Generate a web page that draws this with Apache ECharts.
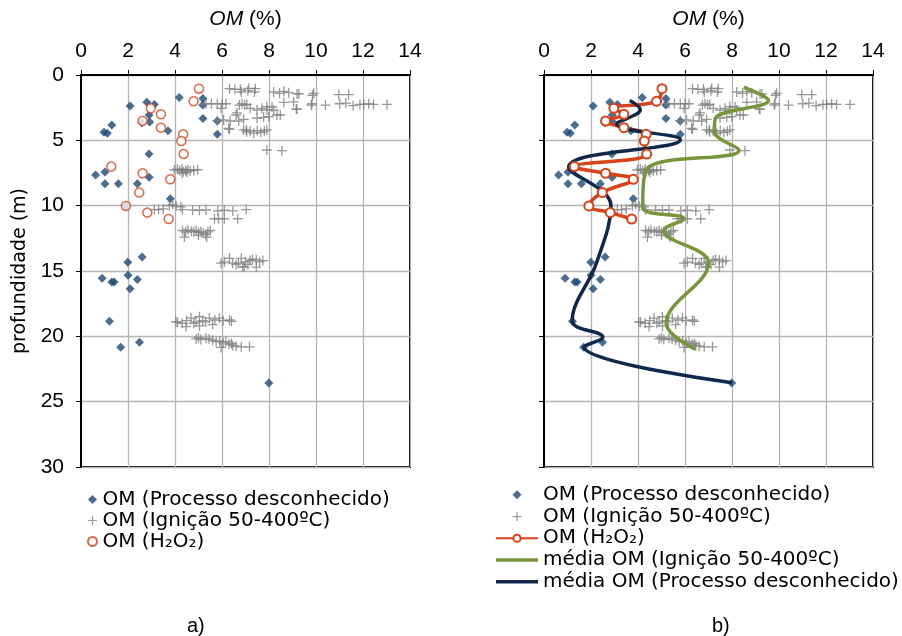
<!DOCTYPE html>
<html><head><meta charset="utf-8">
<script src="https://cdn.jsdelivr.net/npm/echarts@6/dist/echarts.min.js"></script>
<style>html,body{margin:0;padding:0;background:#fff}#c{width:902px;height:636px}</style>
</head><body><div id="c"></div>
<script>
// ---------- data ----------
const xTickValues = [0, 2, 4, 6, 8, 10, 12, 14];
const yTickValues = [0, 5, 10, 15, 20, 25, 30];

// OM (Processo desconhecido): [OM %, depth m]
const omUnknown = [
  [2.09,2.37],[2.80,2.09],[3.12,2.25],[2.90,3.06],[2.59,3.65],[2.92,3.60],[3.70,4.26],
  [4.18,1.73],[5.19,1.79],[5.18,2.30],[5.19,3.32],[5.80,3.52],[5.80,4.54],
  [1.31,3.83],[0.98,4.38],[1.12,4.46],[2.89,6.05],
  [0.62,7.65],[1.02,7.42],[1.02,8.32],[1.59,8.32],[2.40,8.32],[2.90,7.83],[3.80,9.47],[1.91,10.02],
  [1.99,14.33],[2.60,13.92],[0.90,15.56],[1.31,15.84],[1.41,15.84],[2.00,15.33],[2.40,15.66],[2.09,16.35],
  [1.21,18.85],[2.49,20.45],[1.69,20.84],[7.99,23.57]
];

// OM (Ignição 50-400ºC)
const omIgnition = [
  [6.32,1.05],[6.55,1.10],[6.78,1.10],[7.14,1.02],[7.42,1.05],[6.82,1.30],[7.10,1.20],[7.38,1.30],
  [8.20,1.30],[8.45,1.40],[8.63,1.25],[8.84,1.35],[9.19,1.45],[9.27,1.45],[9.90,1.40],[9.85,1.55],
  [10.97,1.50],[11.39,1.50],
  [5.32,2.20],[5.55,2.20],[5.80,2.20],[6.00,2.20],[6.17,2.20],[5.96,2.55],[6.74,2.30],[6.96,2.30],
  [6.85,2.20],[7.06,2.25],[7.91,2.42],[8.13,2.45],[8.63,2.10],[9.05,2.05],[9.16,2.60],[9.80,2.30],[9.83,2.20],
  [10.40,2.30],[11.01,2.20],[11.27,2.15],[11.58,2.35],[11.87,2.25],[12.03,2.25],[12.24,2.20],[12.45,2.25],[13.02,2.25],
  [6.64,2.90],[7.20,2.55],[7.49,2.68],[7.70,2.55],[7.91,2.68],[8.20,2.68],[8.48,3.06],[9.19,2.63],
  [5.80,3.50],[6.07,3.44],[6.35,3.52],[6.71,3.52],[6.92,3.39],[7.49,3.31],[7.77,3.24],[7.99,3.19],[8.34,3.06],
  [6.60,3.06],[6.28,4.08],[6.32,4.16],
  [6.92,4.20],[7.05,4.35],[7.20,4.30],[7.35,4.45],[7.50,4.25],[7.65,4.40],[7.80,4.30],[7.91,4.20],[7.03,4.20],
  [7.91,5.74],[8.55,5.79],
  [3.97,7.27],[4.10,7.20],[4.20,7.30],[4.30,7.20],[4.35,7.40],[4.45,7.30],[4.55,7.25],[4.65,7.35],
  [4.80,7.30],[4.96,7.25],[4.30,7.50],[4.50,7.45],
  [3.12,10.30],[3.30,10.30],[3.50,10.25],[3.76,10.00],[3.90,9.90],[4.05,10.05],[4.25,10.10],[4.32,10.30],
  [4.75,10.33],[5.04,10.35],[5.32,10.33],[5.82,10.40],[6.10,10.35],[6.46,10.40],[7.03,10.30],
  [5.68,11.00],[5.85,11.00],[6.10,11.00],[6.67,11.00],
  [4.32,11.90],[4.45,12.00],[4.55,11.85],[4.70,11.95],[4.80,12.00],[4.90,11.90],[5.00,12.05],[5.10,12.00],
  [5.20,12.10],[5.30,12.20],[5.40,12.00],[5.50,11.90],[4.40,12.40],[5.35,12.40],[5.00,12.25],
  [5.96,14.40],[6.10,14.30],[6.32,14.03],[6.45,14.40],[6.60,14.50],[6.82,14.03],[6.88,14.67],[7.00,14.30],
  [7.10,14.50],[7.20,14.20],[7.30,14.10],[7.46,14.15],[7.60,14.30],[7.46,14.70],[6.70,14.40],[6.95,14.70],[7.74,14.20],
  [4.04,18.90],[4.11,18.92],[4.30,19.00],[4.47,19.25],[4.50,18.80],[4.68,18.60],[4.80,19.00],[4.90,18.90],
  [5.04,18.50],[5.04,19.20],[5.18,18.80],[5.30,18.90],[5.46,18.60],[5.60,19.10],[5.70,18.75],[5.89,18.60],
  [6.05,18.80],[6.32,18.75],[6.40,18.85],
  [4.90,20.20],[5.00,20.10],[5.10,20.25],[5.32,20.15],[5.45,20.20],[5.60,20.30],[5.75,20.40],[5.90,20.35],
  [6.05,20.50],[6.17,20.40],[6.30,20.60],[6.46,20.70],[5.96,20.85],[6.60,20.75],[6.82,20.80],[7.17,20.80],[6.40,20.55]
];

// OM (H2O2)
const omH2O2 = [
  [5.02,1.05],[4.79,2.01],[2.97,2.55],[3.40,3.01],[2.62,3.52],[3.40,4.03],[4.35,4.54],[4.27,5.05],
  [4.37,6.05],[1.29,7.01],[2.62,7.52],[3.80,7.98],[2.48,9.00],[1.91,10.02],[2.82,10.53],[3.73,11.02]
];

// média OM (Ignição 50-400ºC)
const meanIgnition = [
  [8.50,0.95],[9.55,1.95],[7.30,3.30],[7.25,4.30],[8.30,5.75],[4.35,7.25],[4.20,10.10],
  [5.95,11.00],[5.10,11.90],[7.00,14.40],[5.20,19.00],[6.45,21.00]
];

// média OM (Processo desconhecido)
const meanUnknown = [
  [3.65,1.95],[4.10,2.65],[3.10,3.75],[5.80,4.95],[1.05,7.05],[2.85,10.00],[2.25,14.30],
  [1.20,18.80],[2.50,20.05],[1.70,20.80],[8.00,23.55]
];

const legendLabels = {
  a1: 'OM (Processo desconhecido)', a2: 'OM (Ignição 50-400ºC)', a3: 'OM (H₂O₂)',
  b1: 'OM (Processo desconhecido)', b2: 'OM (Ignição 50-400ºC)', b3: 'OM (H₂O₂)',
  b4: 'média OM (Ignição 50-400ºC)', b5: 'média OM (Processo desconhecido)'
};
const panelLabels = ['a)', 'b)'];

// ---------- styles ----------
const C_BLUE = '#1c4a77', C_GRAY = '#808080', C_ORANGE = '#d8431a', C_GREEN = '#77963a', C_NAVY = '#10294a';
const CROSS = 'path://M0,4.35H10V5.65H0Z M4.35,0H5.65V10H4.35Z';
const DIAMOND = 'path://M5,0L10,5L5,10L0,5Z';
const BAR = 'path://M0,0H43V3.6H0Z';
const NUM_FONT = 'Liberation Sans';
const LEG_FONT = 'DejaVu Sans';

function xAxisFor(gi) {
  return {
    type: 'value', gridIndex: gi, position: 'top',
    min: xTickValues[0], max: xTickValues[xTickValues.length - 1], interval: xTickValues[1] - xTickValues[0],
    name: '{i|OM} (%)', nameLocation: 'middle', nameGap: 45,
    nameTextStyle: { fontFamily: NUM_FONT, fontSize: 21, color: '#000',
      rich: { i: { fontStyle: 'italic', fontFamily: NUM_FONT, fontSize: 21, color: '#000' } } },
    axisLine: { show: true, lineStyle: { color: '#000', width: 2 } },
    axisTick: { show: true, inside: false, length: 5, lineStyle: { color: '#000', width: 1 } },
    axisLabel: { fontFamily: NUM_FONT, fontSize: 21, color: '#000', margin: 13 },
    splitLine: { show: true, lineStyle: { color: '#b4b4b4', width: 1.3 } }
  };
}
function yAxisFor(gi, showLabels) {
  return {
    type: 'value', gridIndex: gi, inverse: true,
    min: yTickValues[0], max: yTickValues[yTickValues.length - 1], interval: yTickValues[1] - yTickValues[0],
    name: showLabels ? 'profundidade (m)' : '', nameLocation: 'middle', nameGap: 51, nameRotate: 90,
    nameTextStyle: { fontFamily: LEG_FONT, fontSize: 19, color: '#000' },
    axisLine: { show: true, lineStyle: { color: '#000', width: 2 } },
    axisTick: { show: true, inside: false, length: 5, lineStyle: { color: '#000', width: 1 } },
    axisLabel: { show: showLabels, fontFamily: NUM_FONT, fontSize: 21, color: '#000', margin: 17 },
    splitLine: { show: true, lineStyle: { color: '#b4b4b4', width: 1.3 } }
  };
}

const diamond = (name, gi) => ({ name, type: 'scatter', xAxisIndex: gi, yAxisIndex: gi, data: omUnknown,
  symbol: 'diamond', symbolSize: 9, itemStyle: { color: C_BLUE } });
const cross = (name, gi) => ({ name, type: 'scatter', xAxisIndex: gi, yAxisIndex: gi, data: omIgnition,
  symbol: CROSS, symbolSize: 10, itemStyle: { color: C_GRAY } });

const option = {
  animation: false,
  backgroundColor: '#fff',
  grid: [
    { left: 81, top: 75, width: 329, height: 392, show: true, borderColor: '#000', borderWidth: 2, containLabel: false },
    { left: 544, top: 75, width: 329, height: 392, show: true, borderColor: '#000', borderWidth: 2, containLabel: false }
  ],
  xAxis: [xAxisFor(0), xAxisFor(1)],
  yAxis: [yAxisFor(0, true), yAxisFor(1, false)],
  legend: [
    { orient: 'vertical', left: 87, top: 489, padding: 0, itemGap: 0, itemWidth: 10, itemHeight: 9,
      symbolKeepAspect: true,
      data: [{ name: 'a1', icon: DIAMOND }, { name: 'a2', icon: CROSS }, { name: 'a3' }],
      formatter: n => legendLabels[n],
      textStyle: { fontFamily: LEG_FONT, fontSize: 20, lineHeight: 21, color: '#000' }, selectedMode: false },
    { orient: 'vertical', left: 495, top: 484, padding: 0, itemGap: 0, itemWidth: 42, itemHeight: 9,
      symbolKeepAspect: true,
      data: [{ name: 'b1', icon: DIAMOND }, { name: 'b2', icon: CROSS }, { name: 'b3' },
             { name: 'b4', icon: BAR }, { name: 'b5', icon: BAR }],
      formatter: n => legendLabels[n],
      textStyle: { fontFamily: LEG_FONT, fontSize: 20, lineHeight: 21.7, color: '#000' }, selectedMode: false }
  ],
  graphic: [
    { type: 'text', left: 187, top: 616, style: { text: panelLabels[0], font: '20px "Liberation Sans"', fill: '#000' } },
    { type: 'text', left: 712, top: 616, style: { text: panelLabels[1], font: '20px "Liberation Sans"', fill: '#000' } }
  ],
  series: [
    diamond('a1', 0),
    cross('a2', 0),
    { name: 'a3', type: 'scatter', xAxisIndex: 0, yAxisIndex: 0, data: omH2O2,
      symbol: 'circle', symbolSize: 9, itemStyle: { color: '#fff', borderColor: C_ORANGE, borderWidth: 1.5 } },
    diamond('b1', 1),
    cross('b2', 1),
    { name: 'b3', type: 'line', xAxisIndex: 1, yAxisIndex: 1, data: omH2O2, smooth: 0.4,
      symbol: 'circle', symbolSize: 9, showSymbol: true,
      lineStyle: { color: C_ORANGE, width: 3.5 },
      itemStyle: { color: '#fff', borderColor: C_ORANGE, borderWidth: 2 } },
    { name: 'b4', type: 'line', xAxisIndex: 1, yAxisIndex: 1, data: meanIgnition, smooth: 0.4,
      symbol: 'none', showSymbol: false, lineStyle: { color: C_GREEN, width: 3.5 }, itemStyle: { color: C_GREEN } },
    { name: 'b5', type: 'line', xAxisIndex: 1, yAxisIndex: 1, data: meanUnknown, smooth: 0.4,
      symbol: 'none', showSymbol: false, lineStyle: { color: C_NAVY, width: 3.5 }, itemStyle: { color: C_NAVY } }
  ]
};
const chart = echarts.init(document.getElementById('c'), null, { renderer: 'canvas' });
chart.setOption(option);
</script></body></html>
